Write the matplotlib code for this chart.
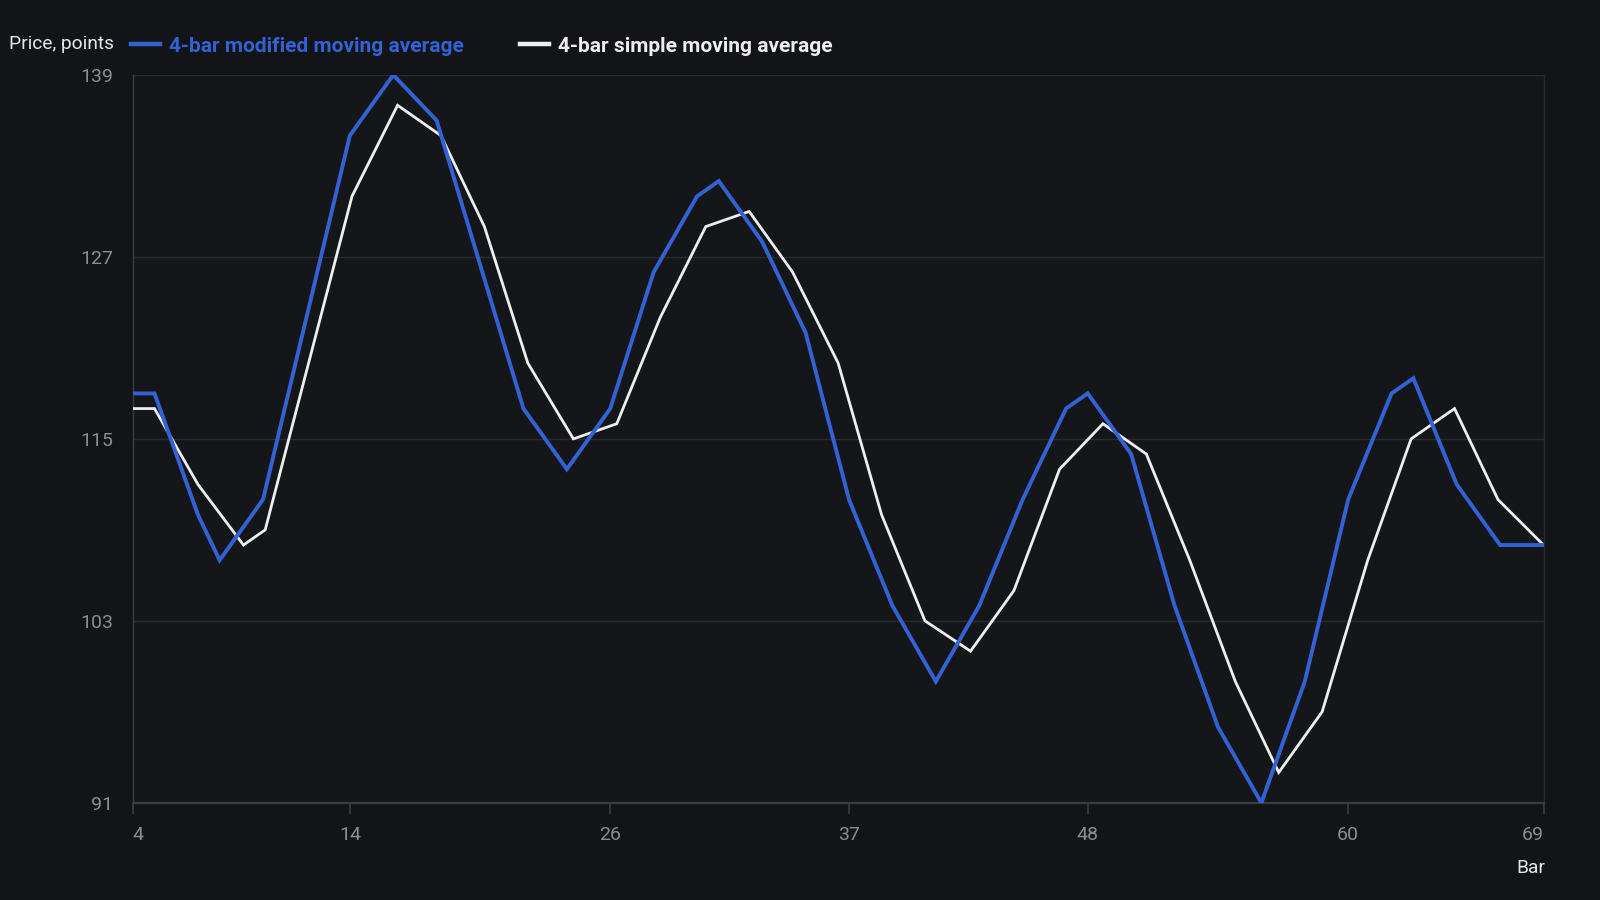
import matplotlib
matplotlib.use("Agg")
import matplotlib.pyplot as plt
from matplotlib.lines import Line2D

plt.rcParams['font.family'] = ['Roboto', 'DejaVu Sans']

# ---- data ----
mma_bars = [4, 5, 7, 8, 10, 14, 16, 18, 22, 24, 26, 28, 30, 31, 33, 35, 37, 39, 41,
            43, 45, 47, 48, 50, 52, 54, 56, 58, 60, 62, 63, 65, 67, 69]
mma_values = [118, 118, 110, 107, 111, 135, 139, 136, 117, 113, 117, 126, 131, 132,
              128, 122, 111, 104, 99, 104, 111, 117, 118, 114, 104, 96, 91, 99, 111,
              118, 119, 112, 108, 108]

sma_bars = [4, 5, 7, 9.1, 10.1, 14.1, 16.2, 18.2, 20.2, 22.2, 24.3, 26.3, 28.3, 30.4,
            32.4, 34.4, 36.5, 38.5, 40.5, 42.6, 44.6, 46.7, 48.7, 50.7, 52.7, 54.8,
            56.8, 58.8, 60.9, 62.9, 64.9, 66.9, 69]
sma_values = [117, 117, 112, 108, 109, 131, 137, 135, 129, 120, 115, 116, 123, 129,
              130, 126, 120, 110, 103, 101, 105, 113, 116, 114, 107, 99, 93, 97, 107,
              115, 117, 111, 108]

x_ticks = [4, 14, 26, 37, 48, 60, 69]
y_ticks = [91, 103, 115, 127, 139]

series_names = ["4-bar modified moving average", "4-bar simple moving average"]
y_title = "Price, points"
x_title = "Bar"

# ---- style ----
BG = "#131418"
AX_BG = "#15161a"
BLUE = "#3262d4"
WHITE = "#eeeeee"
GRID = "#2a2b30"
SPINE = "#3c3d42"
TICK_TXT = "#8b8c91"

fig = plt.figure(figsize=(16, 9), dpi=100, facecolor=BG)
ax = fig.add_axes([0.083, 0.108, 0.8817, 0.8087])
ax.set_facecolor(AX_BG)

ax.plot(sma_bars, sma_values, color=WHITE, lw=2.0, solid_joinstyle='miter', zorder=3)
ax.plot(mma_bars, mma_values, color=BLUE, lw=2.8, solid_joinstyle='miter', zorder=4)

ax.set_xlim(4, 69)
ax.set_ylim(91, 139)
ax.set_xticks(x_ticks)
ax.set_yticks(y_ticks)
ax.set_xticklabels([str(t) for t in x_ticks])
ax.set_yticklabels([str(t) for t in y_ticks])

ax.grid(axis='y', color=GRID, lw=1.0, zorder=0)
ax.grid(axis='x', visible=False)
ax.set_axisbelow(True)

ax.spines['top'].set_visible(False)
ax.spines['right'].set_color(GRID)
ax.spines['right'].set_linewidth(1.0)
ax.spines['left'].set_color(SPINE)
ax.spines['left'].set_linewidth(1.0)
ax.spines['bottom'].set_color(SPINE)
ax.spines['bottom'].set_linewidth(1.6)

ax.tick_params(axis='x', colors=SPINE, length=8, width=1.2, pad=9,
               labelcolor=TICK_TXT, labelsize=14)
ax.tick_params(axis='y', length=0, pad=14, labelcolor=TICK_TXT, labelsize=14)

xt = ax.get_xticklabels()
xt[0].set_horizontalalignment('left')
xt[-1].set_horizontalalignment('right')

# axis titles
fig.text(114 / 1600, 1 - 44 / 900, y_title, color="#e6e6e6", fontsize=13.8,
         ha='right', va='center')
fig.text(1545 / 1600, 1 - 868 / 900, x_title, color="#e6e6e6", fontsize=13.8,
         ha='right', va='center')

# legend
leg_handles = [Line2D([0], [0], color=BLUE, lw=3.2),
               Line2D([0], [0], color=WHITE, lw=3.2)]
leg = fig.legend(leg_handles, series_names, loc='center left',
                 bbox_to_anchor=(131 / 1600, 1 - 46 / 900), ncol=2, frameon=False,
                 borderpad=0, borderaxespad=0,
                 handlelength=1.38, handletextpad=0.45, columnspacing=2.7,
                 prop={'size': 15, 'weight': 'bold'})
for txt, col in zip(leg.get_texts(), [BLUE, WHITE]):
    txt.set_color(col)

fig.savefig("out.png", dpi=100, facecolor=BG)
